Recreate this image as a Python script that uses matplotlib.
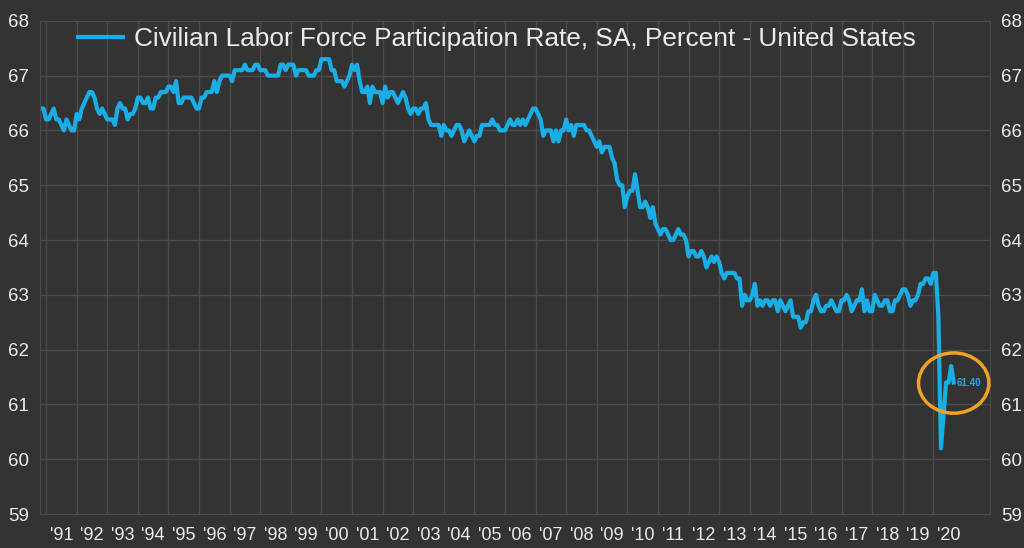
import numpy as np
import matplotlib.pyplot as plt
from matplotlib.patches import Ellipse

plt.rcParams['font.family'] = ['Liberation Sans', 'DejaVu Sans']

# monthly values, Oct 1990 - Sep 2020
start_year, start_month = 1990, 10
rate = [
    66.4, 66.4, 66.4,
    66.2, 66.2, 66.3, 66.4, 66.2, 66.2, 66.1, 66.0, 66.2, 66.1, 66.0, 66.0,
    66.3, 66.2, 66.4, 66.5, 66.6, 66.7, 66.7, 66.6, 66.4, 66.3, 66.4, 66.3,
    66.2, 66.2, 66.2, 66.1, 66.4, 66.5, 66.4, 66.4, 66.2, 66.3, 66.3, 66.4,
    66.6, 66.6, 66.5, 66.5, 66.6, 66.4, 66.4, 66.6, 66.6, 66.7, 66.7, 66.7,
    66.8, 66.8, 66.7, 66.9, 66.5, 66.5, 66.6, 66.6, 66.6, 66.6, 66.5, 66.4,
    66.4, 66.6, 66.6, 66.7, 66.7, 66.7, 66.9, 66.7, 66.9, 67.0, 67.0, 67.0,
    67.0, 66.9, 67.1, 67.1, 67.1, 67.1, 67.2, 67.1, 67.1, 67.1, 67.2, 67.2,
    67.1, 67.1, 67.1, 67.0, 67.0, 67.0, 67.0, 67.0, 67.2, 67.2, 67.1, 67.2,
    67.2, 67.2, 67.0, 67.1, 67.1, 67.1, 67.1, 67.0, 67.0, 67.0, 67.1, 67.1,
    67.3, 67.3, 67.3, 67.3, 67.1, 67.1, 66.9, 66.9, 66.9, 66.8, 66.9, 67.0,
    67.2, 67.1, 67.2, 66.9, 66.7, 66.7, 66.8, 66.5, 66.8, 66.7, 66.7, 66.7,
    66.5, 66.8, 66.6, 66.7, 66.7, 66.6, 66.5, 66.6, 66.7, 66.6, 66.4, 66.3,
    66.4, 66.4, 66.3, 66.4, 66.4, 66.5, 66.2, 66.1, 66.1, 66.1, 66.1, 65.9,
    66.1, 66.0, 66.0, 65.9, 66.0, 66.1, 66.1, 66.0, 65.8, 65.9, 66.0, 65.9,
    65.8, 65.9, 65.9, 66.1, 66.1, 66.1, 66.1, 66.2, 66.1, 66.1, 66.0, 66.0,
    66.0, 66.1, 66.2, 66.1, 66.1, 66.2, 66.1, 66.2, 66.1, 66.2, 66.3, 66.4,
    66.4, 66.3, 66.2, 65.9, 66.0, 66.0, 66.0, 65.8, 66.0, 65.8, 66.0, 66.0,
    66.2, 66.0, 66.1, 65.9, 66.1, 66.1, 66.1, 66.1, 66.0, 66.0, 65.9, 65.8,
    65.7, 65.8, 65.6, 65.7, 65.7, 65.7, 65.5, 65.4, 65.1, 65.0, 65.0, 64.6,
    64.8, 64.9, 64.9, 65.2, 64.9, 64.6, 64.6, 64.7, 64.6, 64.4, 64.6, 64.3,
    64.2, 64.1, 64.2, 64.2, 64.1, 64.0, 64.0, 64.1, 64.2, 64.1, 64.1, 64.0,
    63.7, 63.8, 63.8, 63.7, 63.7, 63.8, 63.7, 63.5, 63.6, 63.7, 63.6, 63.7,
    63.6, 63.4, 63.3, 63.4, 63.4, 63.4, 63.4, 63.3, 63.3, 62.8, 63.0, 62.9,
    62.9, 63.0, 63.2, 62.8, 62.9, 62.8, 62.9, 62.9, 62.8, 62.9, 62.9, 62.7,
    62.9, 62.8, 62.7, 62.8, 62.9, 62.6, 62.6, 62.6, 62.4, 62.5, 62.5, 62.7,
    62.7, 62.9, 63.0, 62.8, 62.7, 62.7, 62.8, 62.8, 62.9, 62.8, 62.7, 62.7,
    62.9, 62.9, 63.0, 62.9, 62.7, 62.8, 62.9, 62.9, 63.1, 62.7, 62.9, 62.7,
    62.7, 63.0, 62.9, 62.8, 62.8, 62.9, 62.9, 62.7, 62.7, 62.9, 62.9, 63.0,
    63.1, 63.1, 63.0, 62.8, 62.9, 62.9, 63.0, 63.2, 63.2, 63.3, 63.3, 63.2,
    63.4, 63.4, 62.6, 60.2, 60.8, 61.4, 61.4, 61.7, 61.4,
]
years = list(range(1991, 2021))
year_labels = ["'%02d" % (y % 100) for y in years]
last_label = '61.40'
title = 'Civilian Labor Force Participation Rate, SA, Percent - United States'

bg = '#333333'
grid_c = '#4b4b4b'
line_c = '#1aaee6'
text_c = '#ececec'

x = start_year + (start_month - 1) / 12 + np.arange(len(rate)) / 12

fig = plt.figure(figsize=(10.24, 5.48), dpi=100, facecolor=bg)
ax = fig.add_axes([0.039, 0.062, 0.928, 0.9])
ax.set_facecolor(bg)

ax.plot(x, rate, color=line_c, lw=3, label=title, solid_joinstyle='round')

ax.set_xlim(1990.8, 2021.86)
ax.set_ylim(59, 68)

ax.set_xticks(years)
ax.set_xticklabels([])
ax.set_xticks([y + 0.5 for y in years], minor=True)
ax.set_xticklabels(year_labels, minor=True)
ax.tick_params(axis='x', which='both', length=0, pad=9, labelsize=13, colors=text_c)
ax.set_yticks(range(59, 69))
ax.tick_params(axis='y', length=0, pad=8, labelsize=13.5, colors=text_c,
               labelleft=True, labelright=True)
ax.grid(True, which='major', color=grid_c, lw=1)
for s in ax.spines.values():
    s.set_color(grid_c)

ell = Ellipse((x[-1], 61.39), 2.3, 1.1, fill=False, ec='#f0a224', lw=2.5,
              clip_on=False, zorder=5)
ax.add_patch(ell)
ax.text(x[-1] + 0.08, rate[-1], last_label, color='#2aa8e0', fontsize=7,
        fontweight='bold', va='center', ha='left')

leg = ax.legend(loc='upper left', bbox_to_anchor=(0.04, 0.988), frameon=False,
                fontsize=18.9, handlelength=1.7, handletextpad=0.45,
                borderpad=0, borderaxespad=0)
for t in leg.get_texts():
    t.set_color(text_c)

fig.savefig('out.png', dpi=100, facecolor=bg)
